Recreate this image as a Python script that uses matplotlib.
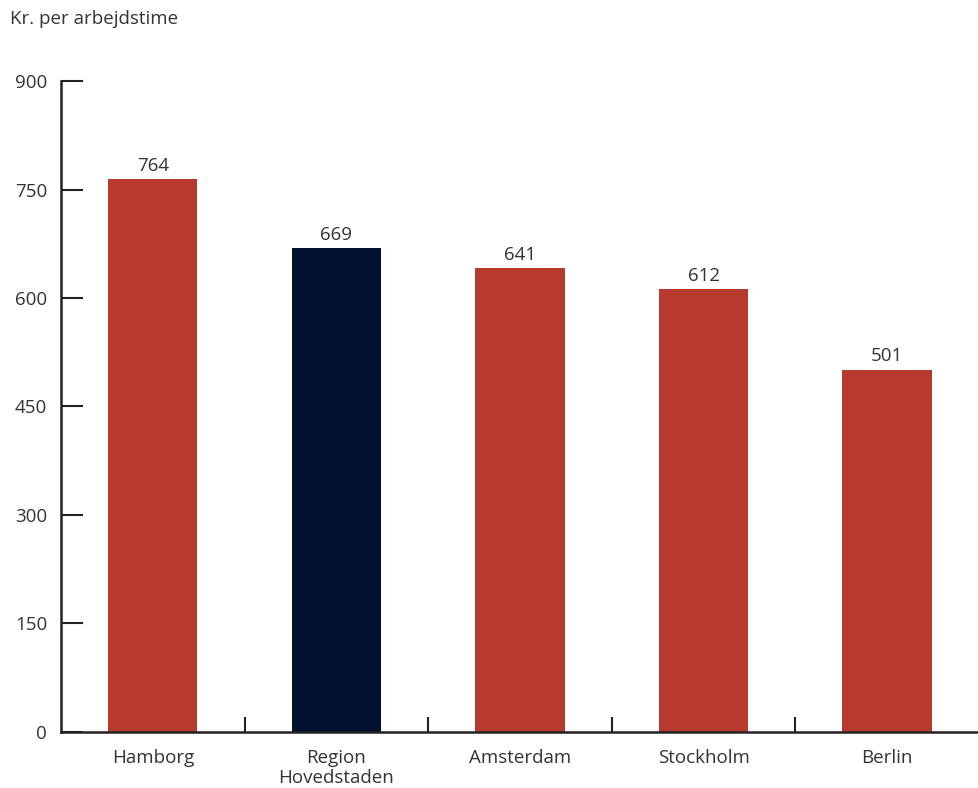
import matplotlib
matplotlib.use('Agg')
import matplotlib.pyplot as plt
import numpy as np

plt.rcParams['font.family'] = ['Open Sans', 'DejaVu Sans']

# ===== data =====
cities = ['Hamborg', 'Region\nHovedstaden', 'Amsterdam', 'Stockholm', 'Berlin']
values = [764, 669, 641, 612, 501]
highlight = 'Region\nHovedstaden'

red = '#B83A2E'
navy = '#001230'
txt = '#333333'
fs = 13.5
colors = [navy if c == highlight else red for c in cities]

fig = plt.figure(figsize=(9.79, 7.88), dpi=100)
ax = fig.add_axes([0.0623, 0.0711, 0.9377, 0.8261])

x = np.arange(len(cities))
bars = ax.bar(x, values, width=0.487, color=colors, zorder=2)
ax.bar_label(bars, labels=[str(v) for v in values], padding=3,
             fontsize=fs, color=txt)

ax.set_xlim(-0.5, len(cities) - 0.5)
ax.set_ylim(0, 900)

# y axis
ax.set_yticks([0, 150, 300, 450, 600, 750, 900])
ax.tick_params(axis='y', direction='in', length=16, width=1.5, color='#222222',
               labelsize=fs, labelcolor=txt, pad=10)

# x axis: ticks between categories, labels at centres
ax.set_xticks(x[:-1] + 0.5)
ax.set_xticklabels([])
ax.tick_params(axis='x', which='major', direction='in', length=11, width=1.5,
               color='#222222')
ax.set_xticks(x, minor=True)
ax.set_xticklabels(cities, minor=True, fontsize=fs, color=txt, linespacing=1.15)
ax.tick_params(axis='x', which='minor', length=0, pad=12)

for s in ['top', 'right']:
    ax.spines[s].set_visible(False)
for s in ['left', 'bottom']:
    ax.spines[s].set_linewidth(1.8)
    ax.spines[s].set_color('#222222')

fig.text(0.0102, 0.976, 'Kr. per arbejdstime', fontsize=fs, color=txt,
         ha='left', va='center')

fig.savefig('out.png', dpi=100, facecolor='white')
